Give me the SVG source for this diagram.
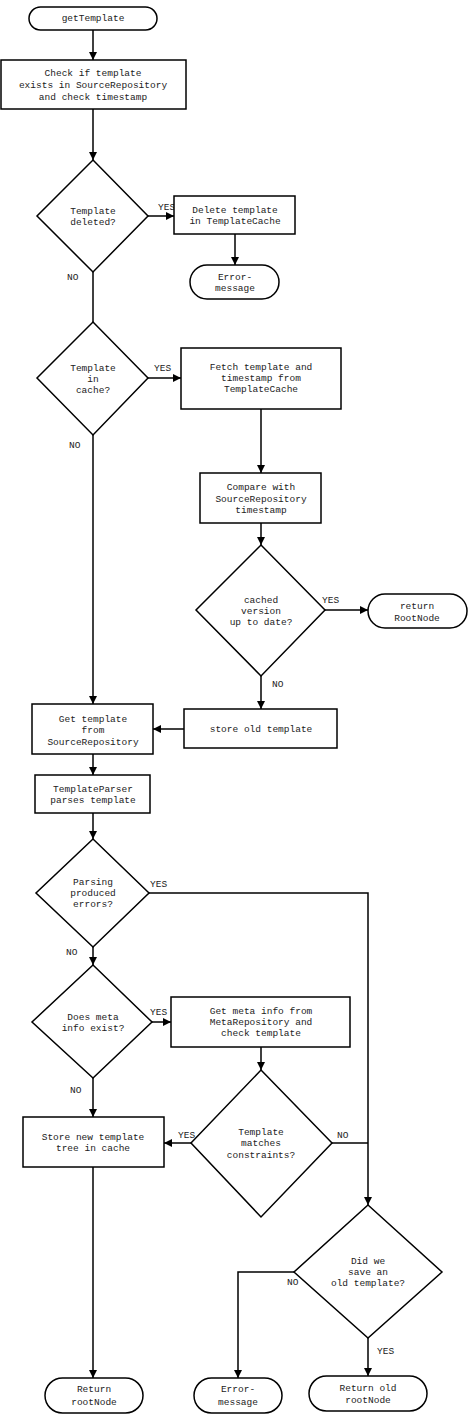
<svg xmlns="http://www.w3.org/2000/svg" width="474" height="1420" viewBox="0 0 474 1420">
<style>
.s{fill:#fff;stroke:#000;stroke-width:1.5}
.c{fill:none;stroke:#000;stroke-width:1.5}
text{font-family:"Liberation Mono","Courier New",monospace;font-size:9.5px;fill:#222;text-anchor:middle}
.l{text-anchor:start}
</style>
<defs>
<marker id="a" viewBox="0 0 8 8" refX="8" refY="4" markerWidth="8" markerHeight="8" markerUnits="userSpaceOnUse" orient="auto">
<path d="M0,0 L8,4 L0,8 z" fill="#000"/>
</marker>
</defs>
<rect width="474" height="1420" fill="#fff"/>
<g id="connectors">
<line class="c" x1="93" y1="30" x2="93" y2="60" marker-end="url(#a)"/>
<line class="c" x1="93" y1="109" x2="93" y2="160" marker-end="url(#a)"/>
<line class="c" x1="148" y1="216" x2="174" y2="216" marker-end="url(#a)"/>
<line class="c" x1="235" y1="234" x2="235" y2="265" marker-end="url(#a)"/>
<line class="c" x1="93" y1="272" x2="93" y2="322"/>
<line class="c" x1="148" y1="378" x2="181" y2="378" marker-end="url(#a)"/>
<line class="c" x1="261" y1="409" x2="261" y2="473" marker-end="url(#a)"/>
<line class="c" x1="261" y1="523" x2="261" y2="545" marker-end="url(#a)"/>
<line class="c" x1="325" y1="610" x2="368" y2="610" marker-end="url(#a)"/>
<line class="c" x1="261" y1="676" x2="261" y2="709" marker-end="url(#a)"/>
<line class="c" x1="184" y1="729" x2="153" y2="729" marker-end="url(#a)"/>
<line class="c" x1="93" y1="435" x2="93" y2="704" marker-end="url(#a)"/>
<line class="c" x1="93" y1="754" x2="93" y2="775" marker-end="url(#a)"/>
<line class="c" x1="93" y1="813" x2="93" y2="839" marker-end="url(#a)"/>
<polyline class="c" points="149,893 368,893 368,1205" marker-end="url(#a)"/>
<line class="c" x1="93" y1="947" x2="93" y2="965" marker-end="url(#a)"/>
<line class="c" x1="152" y1="1022" x2="171" y2="1022" marker-end="url(#a)"/>
<line class="c" x1="261" y1="1047" x2="261" y2="1070" marker-end="url(#a)"/>
<line class="c" x1="191" y1="1143" x2="164" y2="1143" marker-end="url(#a)"/>
<line class="c" x1="332" y1="1143" x2="368" y2="1143"/>
<line class="c" x1="93" y1="1078" x2="93" y2="1117" marker-end="url(#a)"/>
<line class="c" x1="93" y1="1167" x2="93" y2="1378" marker-end="url(#a)"/>
<polyline class="c" points="294,1272 238,1272 238,1378" marker-end="url(#a)"/>
<line class="c" x1="368" y1="1338" x2="368" y2="1376" marker-end="url(#a)"/>
<text class="l" x="158" y="210">YES</text>
<text class="l" x="67" y="280">NO</text>
<text class="l" x="154" y="371">YES</text>
<text class="l" x="69" y="448">NO</text>
<text class="l" x="322" y="603">YES</text>
<text class="l" x="272" y="687">NO</text>
<text class="l" x="150" y="887">YES</text>
<text class="l" x="66" y="955">NO</text>
<text class="l" x="150" y="1015">YES</text>
<text class="l" x="70" y="1093">NO</text>
<text class="l" x="178" y="1138">YES</text>
<text class="l" x="337" y="1138">NO</text>
<text class="l" x="287" y="1285">NO</text>
<text class="l" x="377" y="1354">YES</text>
</g>
<g id="start">
<rect class="s" x="29" y="7" width="128" height="23" rx="11.5"/>
<text x="93" y="21">getTemplate</text>
</g>
<g id="checkExists">
<rect class="s" x="1" y="60" width="185" height="49"/>
<text x="93" y="76">Check if template</text>
<text x="93" y="88">exists in SourceRepository</text>
<text x="93" y="100">and check timestamp</text>
</g>
<g id="deleted">
<polygon class="s" points="93,160 148,216 93,272 37,216"/>
<text x="93" y="214">Template</text>
<text x="93" y="225">deleted?</text>
</g>
<g id="deleteCache">
<rect class="s" x="174" y="196" width="121" height="38"/>
<text x="235" y="213">Delete template</text>
<text x="235" y="224">in TemplateCache</text>
</g>
<g id="error1">
<rect class="s" x="190" y="265" width="89" height="34" rx="17"/>
<text x="235" y="280">Error-</text>
<text x="235" y="291">message</text>
</g>
<g id="inCache">
<polygon class="s" points="93,322 148,378 93,435 37,378"/>
<text x="93" y="371">Template</text>
<text x="93" y="382">in</text>
<text x="93" y="393">cache?</text>
</g>
<g id="fetch">
<rect class="s" x="181" y="348" width="160" height="61"/>
<text x="261" y="370">Fetch template and</text>
<text x="261" y="381">timestamp from</text>
<text x="261" y="392">TemplateCache</text>
</g>
<g id="compare">
<rect class="s" x="200" y="473" width="121" height="50"/>
<text x="261" y="490">Compare with</text>
<text x="261" y="502">SourceRepository</text>
<text x="261" y="513">timestamp</text>
</g>
<g id="upToDate">
<polygon class="s" points="261,545 325,610 261,676 196,610"/>
<text x="261" y="603">cached</text>
<text x="261" y="614">version</text>
<text x="261" y="625">up to date?</text>
</g>
<g id="returnRoot">
<rect class="s" x="368" y="594" width="99" height="34" rx="17"/>
<text x="417" y="609">return</text>
<text x="417" y="621">RootNode</text>
</g>
<g id="storeOld">
<rect class="s" x="184" y="709" width="153" height="39"/>
<text x="261" y="732">store old template</text>
</g>
<g id="getTemplate">
<rect class="s" x="32" y="704" width="121" height="50"/>
<text x="93" y="722">Get template</text>
<text x="93" y="733">from</text>
<text x="93" y="745">SourceRepository</text>
</g>
<g id="parser">
<rect class="s" x="35" y="775" width="115" height="38"/>
<text x="93" y="792">TemplateParser</text>
<text x="93" y="803">parses template</text>
</g>
<g id="parseErrors">
<polygon class="s" points="93,839 149,893 93,947 36,893"/>
<text x="93" y="885">Parsing</text>
<text x="93" y="896">produced</text>
<text x="93" y="907">errors?</text>
</g>
<g id="metaExists">
<polygon class="s" points="93,965 152,1022 93,1078 32,1022"/>
<text x="93" y="1020">Does meta</text>
<text x="93" y="1031">info exist?</text>
</g>
<g id="getMeta">
<rect class="s" x="171" y="997" width="179" height="50"/>
<text x="261" y="1014">Get meta info from</text>
<text x="261" y="1025">MetaRepository and</text>
<text x="261" y="1036">check template</text>
</g>
<g id="matches">
<polygon class="s" points="261,1070 332,1143 261,1217 191,1143"/>
<text x="261" y="1135">Template</text>
<text x="261" y="1146">matches</text>
<text x="261" y="1158">constraints?</text>
</g>
<g id="storeNew">
<rect class="s" x="23" y="1117" width="141" height="50"/>
<text x="93" y="1140">Store new template</text>
<text x="93" y="1151">tree in cache</text>
</g>
<g id="savedOld">
<polygon class="s" points="368,1205 442,1272 368,1338 294,1272"/>
<text x="368" y="1264">Did we</text>
<text x="368" y="1275">save an</text>
<text x="368" y="1286">old template?</text>
</g>
<g id="returnRootNode">
<rect class="s" x="45" y="1378" width="98" height="35" rx="17.5"/>
<text x="94" y="1392">Return</text>
<text x="94" y="1405">rootNode</text>
</g>
<g id="error2">
<rect class="s" x="194" y="1378" width="88" height="35" rx="17.5"/>
<text x="238" y="1392">Error-</text>
<text x="238" y="1405">message</text>
</g>
<g id="returnOld">
<rect class="s" x="309" y="1376" width="118" height="35" rx="17.5"/>
<text x="368" y="1391">Return old</text>
<text x="368" y="1403">rootNode</text>
</g>
</svg>
